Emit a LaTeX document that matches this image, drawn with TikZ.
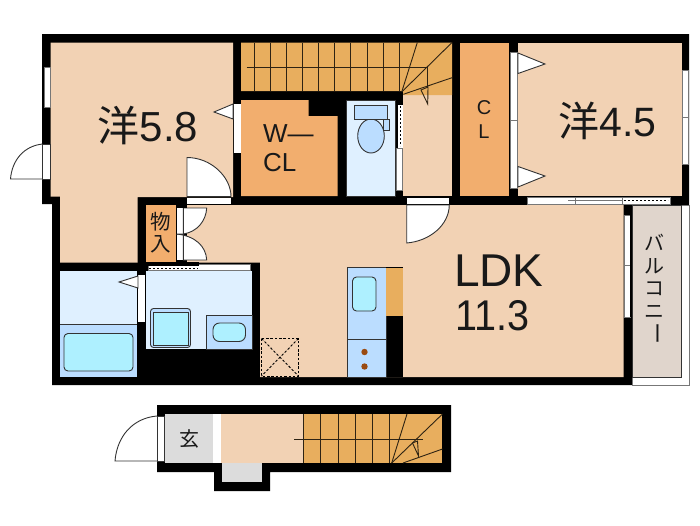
\documentclass[tikz,border=0pt]{standalone}
\usepackage{fontspec}
\setmainfont{Liberation Sans}
\newfontfamily\cjk{Noto Sans CJK JP}
\definecolor{room}{HTML}{F2D2B4}
\definecolor{closet}{HTML}{F2AE6E}
\definecolor{stair}{HTML}{E8AE5E}
\definecolor{wet}{HTML}{DFF0FF}
\definecolor{wetb}{HTML}{BBDDFF}
\definecolor{basin}{HTML}{AEF0FF}
\definecolor{balc}{HTML}{E0D5CC}
\definecolor{genk}{HTML}{DCDCDC}
\definecolor{ln}{HTML}{333333}
\definecolor{rail}{HTML}{777777}
\definecolor{burner}{HTML}{9A4A10}
\tikzset{
  leaf/.style={fill=white,draw=ln,line width=.9pt},
  sill/.style={fill=white,draw=rail,line width=.7pt},
  tread/.style={draw=black!80!stair,line width=.9pt},
  fix/.style={draw=ln,line width=.9pt},
  dots/.style={draw=black,line width=.9pt,dash pattern=on 2.5pt off 1.8pt},
  lab/.style={inner sep=0pt,text=black!90},
}
\begin{document}
\begin{tikzpicture}[x=1pt,y=-1pt]
\useasboundingbox (0,0) rectangle (700,525);
% ---- upper floor walls
\fill[black] (42,34) -- (689,34) -- (689,205) -- (632,205) -- (632,385) -- (52,385) -- (52,204) -- (42,204) -- cycle;
% balcony
\draw[rail,line width=.8pt,fill=white] (632,205) rectangle (689,385);
\fill[black] (681,42) rectangle (689,205);
\fill[balc,draw=ln,line width=.7pt] (632.5,205) rectangle (681.5,377);
% rooms
\fill[room] (50.7,42.5) -- (233,42.5) -- (233,197) -- (137.5,197) -- (137.5,262.5) -- (60,262.5) -- (60,196.5) -- (50.7,196.5) -- cycle;
\fill[room] (518,42.5) rectangle (681.5,196);
\fill[room] (403,95) rectangle (452,196);
\fill[room] (187,205) -- (623.5,205) -- (623.5,377) -- (260,377) -- (260,262.5) -- (187,262.5) -- cycle;
% closets
\fill[closet] (241,100) -- (308.7,100) -- (308.7,116) -- (337.5,116) -- (337.5,196) -- (241,196) -- cycle;
\fill[closet] (460,42.5) rectangle (509,196);
\fill[closet] (146,205) rectangle (176,263);
% stairs
\fill[stair] (241,42.5) -- (452,42.5) -- (452,95) -- (403,95) -- (403,91) -- (241,91) -- cycle;
\foreach \x in {254,270,286,302,318,334,350.7,367,383,399.5}{\draw[tread] (\x,42.5) -- (\x,91);}
\coordinate (sa) at (246.7,67);
\coordinate (sb) at (427.7,67);
\coordinate (sc) at (401.7,92);
\draw[tread] (sa) -- (sb) -- (427.7,87);
\draw[tread] (sc) -- (417.3,42.5);
\draw[tread] (sc) -- (452,42.5);
\draw[tread] (403.3,94.3) -- (452,77.7);
\draw[tread] (421,90) -- (428,87) -- (427.7,104) -- cycle;
% toilet
\fill[wet,draw=ln,line width=.5pt] (346,100) rectangle (395,196);
\draw[fix,fill=wetb] (371,136) ellipse [x radius=13.3,y radius=17];
\draw[fix,fill=wetb] (383,119.5) rectangle (389,130);
\draw[fix,fill=wetb] (354.7,105) rectangle (387.5,119);
\fill[white] (396,105) rectangle (402.5,190);
\draw[rail,line width=.6pt] (396,148) rectangle (402.5,190);
\fill[black] (396,105) rectangle (398,148);
\draw[dots,dash pattern=on 2pt off 2pt] (400.5,106) -- (400.5,146);
% thresholds
\fill[white] (187,197.5) rectangle (231,204);
\fill[white] (406.7,197.5) rectangle (449,204);
% left window/door
\draw[sill] (44,67.5) rectangle (50,107.5);
\draw[leaf] (42.5,144) rectangle (50.5,179);
\draw[leaf,fill=none] (42.5,144) .. controls (24,146) and (12,160) .. (10.5,179) -- (42.5,179);
% door 5.8
\draw[leaf] (187,196.5) -- (187,157.5) .. controls (211,157.5) and (231,177) .. (231,196.5) -- cycle;
% door W-CL
\fill[white] (233.5,104) rectangle (240.5,153);
\draw[leaf] (233,104) -- (214,112) -- (233,119) -- cycle;
% CL doors
\draw[sill] (510.5,52) rectangle (517.5,120);
\draw[sill] (510.5,120) rectangle (517.5,188);
\draw[leaf] (518,53) -- (545,64) -- (518,73.5) -- cycle;
\draw[leaf] (518,166.5) -- (545,176) -- (518,187) -- cycle;
% door LDK
\draw[leaf] (406.7,205) -- (449.3,205) .. controls (449,225) and (430,241) .. (406.7,243) -- cycle;
% closet doors
\fill[white] (176.7,208) rectangle (183.3,234);
\fill[white] (176.7,234) rectangle (183.3,260);
\draw[rail,line width=.6pt] (176.7,234) -- (183.3,234);
\draw[leaf] (183.3,208) -- (206.7,208) .. controls (206,221) and (197,232) .. (183.3,234) -- cycle;
\draw[leaf] (183.3,260) -- (206.7,260) .. controls (206,246) and (195,236) .. (176.7,234) -- (183.3,234) -- cycle;
\fill[black] (176,205) rectangle (187,207.5);
\fill[black] (176,260.5) rectangle (187,263);
% LDK sliding window & top window
\draw[sill] (527.7,197.5) rectangle (622,204);
\fill[white,draw=rail,line width=.6pt] (622,197.5) rectangle (670,204);
\draw[dots,dash pattern=on 2pt off 2pt] (624,200) -- (668,200);
\draw[rail,line width=.8pt] (575,197.5) -- (575,204);
\draw[rail,line width=.6pt] (568,200.7) -- (622,200.7);
\fill[white] (624.5,215) rectangle (630,317);
\draw[rail,line width=.7pt] (624.5,215) rectangle (630,317);
\draw[rail,line width=.7pt] (624.5,265) -- (630,265);
\fill[black] (630,215) rectangle (632,317);
% right window
\draw[sill] (682,70) rectangle (688.5,164);
\draw[rail,line width=.7pt] (682,117) -- (688.5,117);
% bath
\fill[wet] (60,271) rectangle (137,324);
\fill[wetb] (60,324) rectangle (137,377);
\draw[fix] (60,324) -- (137,324);
\draw[fix,fill=basin,rounded corners=4pt] (64,333.5) rectangle (133,371);
\fill[white] (138,275) rectangle (145,322);
\draw[leaf] (138,276) -- (119,282) -- (138,288) -- cycle;
% wash room
\fill[wet] (146,271) rectangle (252,349);
\fill[white,draw=rail,line width=.6pt] (148,264) rectangle (250,270);
\fill[black] (146,262) rectangle (199,266);
\draw[black,line width=1pt,dash pattern=on 2pt off 2pt] (149,268) -- (198,268);
\draw[fix,fill=wetb,rounded corners=3pt] (150.5,308.5) rectangle (190.5,347.5);
\draw[fix,fill=basin,line width=1pt] (153.5,312) rectangle (188,345);
\draw[fix,fill=wetb] (206,315) rectangle (252,349);
\draw[fix,fill=basin,rounded corners=6.5pt] (213,323) rectangle (245.5,341.5);
% entry box
\draw[dots] (261.5,338.5) rectangle (298.5,376);
\draw[dots] (261.5,338.5) -- (298.5,376);
\draw[dots] (298.5,338.5) -- (261.5,376);
% kitchen
\fill[black] (347,267) rectangle (403,377);
\fill[wetb,draw=ln,line width=.6pt] (347.5,267.5) rectangle (386,377);
\draw[fix] (347.5,339) -- (386,339);
\draw[fix,fill=basin,rounded corners=4pt] (352.5,277) rectangle (376,311);
\fill[stair] (386,267.5) rectangle (403,316);
\draw[line width=.7pt] (386,267) -- (403,267);
\fill[burner] (364.5,352) circle (3.2);
\fill[burner] (364.5,366.5) circle (3.2);
% ---- lower floor
\fill[black] (157,405) -- (451,405) -- (451,472) -- (270,472) -- (270,491) -- (214,491) -- (214,472) -- (157,472) -- cycle;
\fill[genk] (165,414) rectangle (213,463);
\fill[white] (213,414) rectangle (221,463);
\fill[room] (221,414) rectangle (303,463);
\fill[stair] (303,414) rectangle (442,463);
\fill[genk] (222,463) rectangle (262,482);
\draw[leaf] (157,416) rectangle (164,461);
\draw[leaf,fill=none] (157,416) .. controls (133,418) and (117,436) .. (115,461) -- (157,461);
\foreach \x in {303.3,320.7,338.3,355.7,372.3,389.7}{\draw[tread] (\x,414) -- (\x,463);}
\coordinate (ta) at (294.3,439);
\coordinate (tb) at (423,439);
\coordinate (tc) at (391.7,463);
\draw[tread] (ta) -- (tb);
\draw[tread] (tc) -- (407,414);
\draw[tread] (tc) -- (442.5,414);
\draw[tread] (403,463) -- (442.5,449);
\draw[tread] (412.5,443) -- (417.5,441) -- (418.5,456) -- cycle;
% ---- text
\node[lab] (t58) at (148,126) {\fontsize{42}{42}\selectfont\cjk 洋\fontspec{Liberation Sans}\fontsize{42}{42}\selectfont 5.8};
\node[lab] (t45) at (607.5,120.5) {\fontsize{41}{41}\selectfont\cjk 洋\fontspec{Liberation Sans}\fontsize{41}{41}\selectfont 4.5};
\node[lab,align=left,anchor=west,font=\fontsize{26}{28.5}\selectfont] (twcl) at (263,148) {W—\\CL};
\node[lab,align=center,font=\fontsize{20}{24}\selectfont] (tcl) at (484,119.5) {C\\L};
\node[lab,align=center,font=\fontsize{20.5}{22}\cjk] (tmono) at (161,232.5) {物\\入};
\node[lab,anchor=west,font=\fontsize{46}{46}\selectfont] (tldk) at (454,270.5) {LDK};
\node[lab,anchor=west,font=\fontsize{43}{43}\selectfont,xscale=.92] (tnum) at (455,316) {11.3};
\node[lab,align=center,font=\fontsize{20}{22.5}\cjk] (tbal) at (654.5,276.5) {バ\\ル\\コ\\ニ};
\node[lab,rotate=-90,font=\fontsize{22}{22}\cjk] (tbar) at (654.5,333) {ー};
\node[lab,font=\fontsize{20}{20}\cjk] (tgen) at (189.5,439) {玄};
\end{tikzpicture}
\end{document}
